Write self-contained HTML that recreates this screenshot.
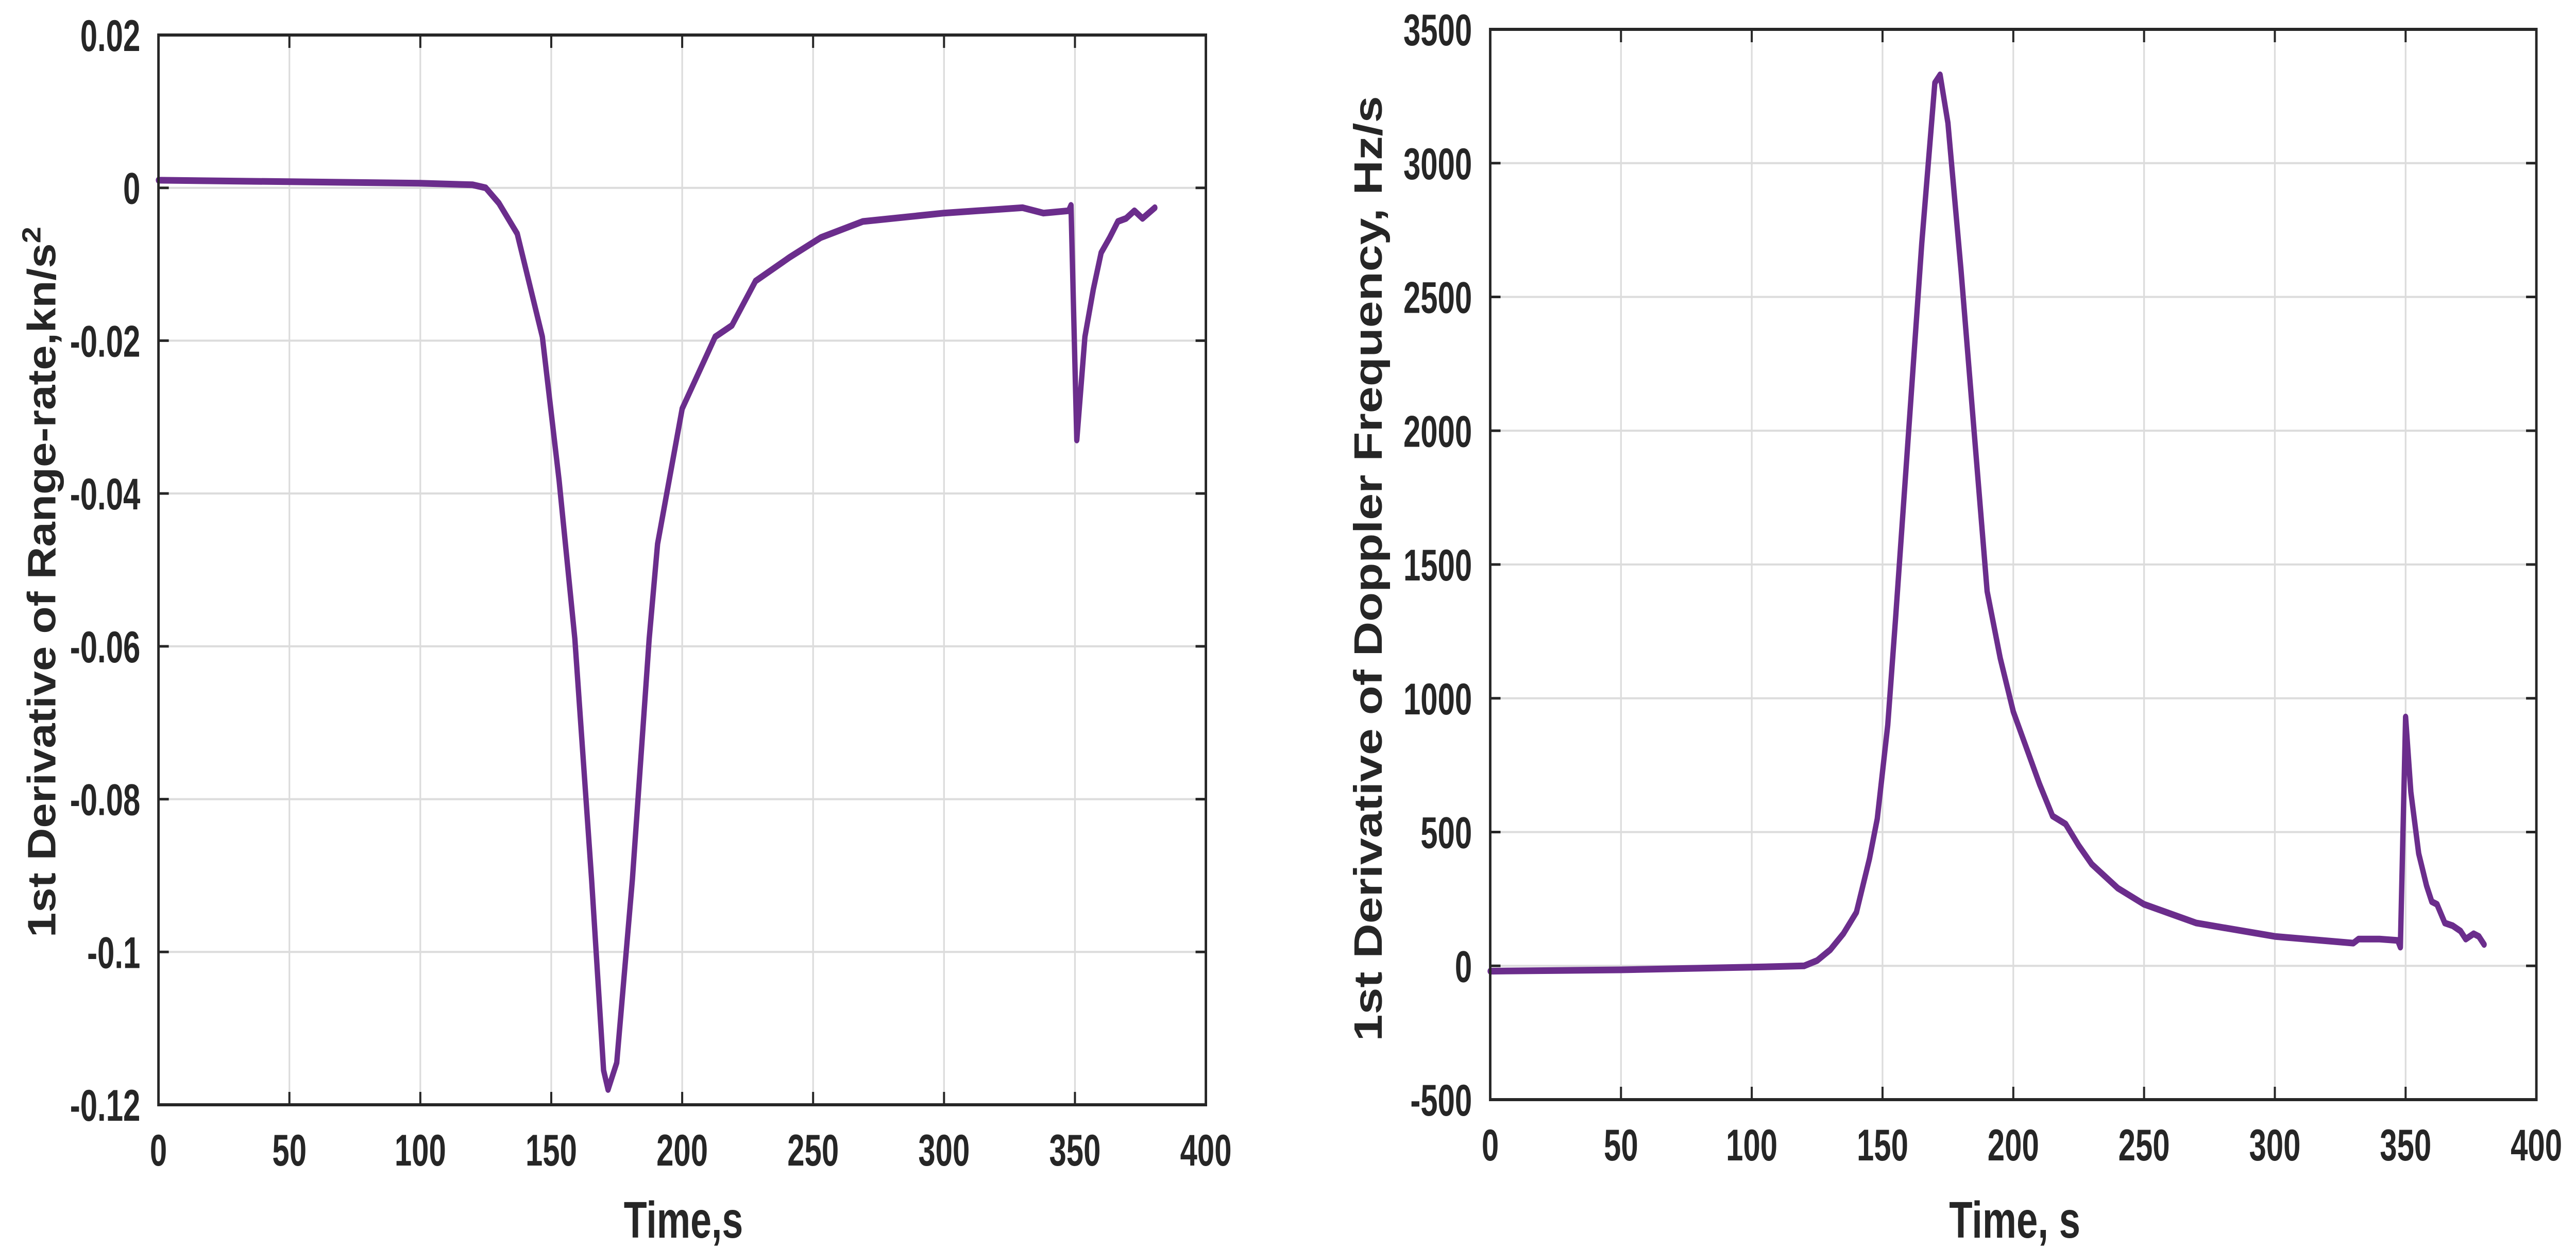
<!DOCTYPE html>
<html><head><meta charset="utf-8"><style>
html,body{margin:0;padding:0;background:#fff;width:100vw;height:100vh;overflow:hidden}
svg{display:block;width:100vw;height:100vh}
text{font-family:"Liberation Sans",Arial,sans-serif;font-weight:bold;fill:#262626}
</style></head><body>
<svg id="fig" viewBox="0 0 6242 2425" preserveAspectRatio="none" xmlns="http://www.w3.org/2000/svg">
  <text x="1656" y="2403" font-size="100" text-anchor="middle" textLength="289" lengthAdjust="spacingAndGlyphs">Time,s</text>
  <text transform="translate(134,1130) rotate(-90)" font-size="96" text-anchor="middle" textLength="1380" lengthAdjust="spacingAndGlyphs">1st Derivative of Range-rate,kn/s<tspan dy="-36" font-size="64">2</tspan></text>
  <text x="4882" y="2403" font-size="100" text-anchor="middle" textLength="318" lengthAdjust="spacingAndGlyphs">Time, s</text>
  <text transform="translate(3348,1104) rotate(-90)" font-size="96" text-anchor="middle" textLength="1835" lengthAdjust="spacingAndGlyphs">1st Derivative of Doppler Frequency, Hz/s</text>
</svg>
<script>
// Left chart data
const leftTicksX = [0,50,100,150,200,250,300,350,400];
const leftTicksY = [0.02,0,-0.02,-0.04,-0.06,-0.08,-0.1,-0.12];
const leftTickLabelsY = ["0.02","0","-0.02","-0.04","-0.06","-0.08","-0.1","-0.12"];
const leftTime = [0,50,100,120,125,130,137,146.6,153,159,165.4,170,171.7,175,181,187.4,190.6,200,212.6,219,228,241,253,269,300,330,338,347.6,348.5,350.7,353.8,357,360,363.3,366.4,369.5,372.7,375.8,380.5];
const leftValue = [0.001,0.0008,0.0006,0.0004,0,-0.002,-0.006,-0.0195,-0.0383,-0.059,-0.0905,-0.1155,-0.118,-0.1145,-0.0905,-0.059,-0.0466,-0.0289,-0.0195,-0.018,-0.0122,-0.0091,-0.0065,-0.0044,-0.0033,-0.0026,-0.0033,-0.003,-0.0023,-0.033,-0.0195,-0.0133,-0.0085,-0.0065,-0.0044,-0.004,-0.003,-0.004,-0.0026];
// Right chart data
const rightTicksX = [0,50,100,150,200,250,300,350,400];
const rightTicksY = [3500,3000,2500,2000,1500,1000,500,0,-500];
const rightTickLabelsY = ["3500","3000","2500","2000","1500","1000","500","0","-500"];
const rightTime = [0,50,100,120,125,130,135,140,145,148,152,155,160,165,170,172,175,180,185,190,195,200,210,215,220,225,230,240,250,270,300,330,332,340,347,348,350,352,355,358,360,362,365,368,371,373,376,378,380];
const rightValue = [-20,-15,-5,0,20,60,120,200,400,550,900,1300,2000,2700,3300,3330,3150,2600,2000,1400,1150,950,680,560,530,450,380,290,230,160,110,85,100,100,95,70,930,650,420,300,240,230,160,150,130,100,120,110,80];

const NS="http://www.w3.org/2000/svg";
const svg=document.getElementById('fig');
function mk(tag,attrs,parent){const e=document.createElementNS(NS,tag);for(const k in attrs)e.setAttribute(k,attrs[k]);(parent||svg).appendChild(e);return e;}

function drawChart(cfg){
  const g=mk('g',{});
  
  
  const sx=v=>cfg.x0+(v-cfg.xmin)/(cfg.xmax-cfg.xmin)*(cfg.x1-cfg.x0);
  const sy=v=>cfg.y1-(v-cfg.ymin)/(cfg.ymax-cfg.ymin)*(cfg.y1-cfg.y0);
  cfg.tx.forEach(t=>{const l=mk('line',{x1:sx(t),x2:sx(t),y1:cfg.y0,y2:cfg.y1,stroke:'#dcdcdc','stroke-width':4},g);
    
    });
  cfg.ty.forEach(t=>{const l=mk('line',{x1:cfg.x0,x2:cfg.x1,y1:sy(t),y2:sy(t),stroke:'#dcdcdc','stroke-width':4},g);
    
    });
  const pts=cfg.xs.map((t,i)=>sx(t).toFixed(1)+','+sy(cfg.ys[i]).toFixed(1)).join(' ');
  const pl=mk('polyline',{points:pts,fill:'none',stroke:'#6b2d8c','stroke-width':13,'stroke-linejoin':'round','stroke-linecap':'round'},g);
  
  
  const box=mk('rect',{x:cfg.x0,y:cfg.y0,width:cfg.x1-cfg.x0,height:cfg.y1-cfg.y0,fill:'none',stroke:'#262626','stroke-width':6},g);
  
  
  cfg.tx.forEach(t=>{
    mk('line',{x1:sx(t),x2:sx(t),y1:cfg.y1,y2:cfg.y1-25,stroke:'#262626','stroke-width':5},g);
    mk('line',{x1:sx(t),x2:sx(t),y1:cfg.y0,y2:cfg.y0+25,stroke:'#262626','stroke-width':5},g);
    const tg=mk('g',{transform:`translate(${sx(t)},${cfg.y1+118}) scale(0.87,1)`},g);
    const tx=mk('text',{x:0,y:0,'font-size':86,'text-anchor':'middle'},tg);
    tx.textContent=String(t);
    
    
  });
  cfg.ty.forEach((t,i)=>{
    mk('line',{x1:cfg.x0,x2:cfg.x0+25,y1:sy(t),y2:sy(t),stroke:'#262626','stroke-width':5},g);
    mk('line',{x1:cfg.x1,x2:cfg.x1-25,y1:sy(t),y2:sy(t),stroke:'#262626','stroke-width':5},g);
    const tg=mk('g',{transform:`translate(${cfg.x0-44},${sy(t)+31}) scale(0.87,1)`},g);
    const tx=mk('text',{x:0,y:0,'font-size':86,'text-anchor':'end'},tg);
    tx.textContent=cfg.tyl[i];
    
    
  });
}

drawChart({name:'range-rate-derivative-chart',x0:384,x1:2922,y0:68,y1:2145,xmin:0,xmax:400,ymin:-0.12,ymax:0.02,tx:leftTicksX,ty:leftTicksY,tyl:leftTickLabelsY,xs:leftTime,ys:leftValue});
drawChart({name:'doppler-derivative-chart',x0:3611,x1:6146,y0:57,y1:2135,xmin:0,xmax:400,ymin:-500,ymax:3500,tx:rightTicksX,ty:rightTicksY,tyl:rightTickLabelsY,xs:rightTime,ys:rightValue});
</script>
</body></html>
